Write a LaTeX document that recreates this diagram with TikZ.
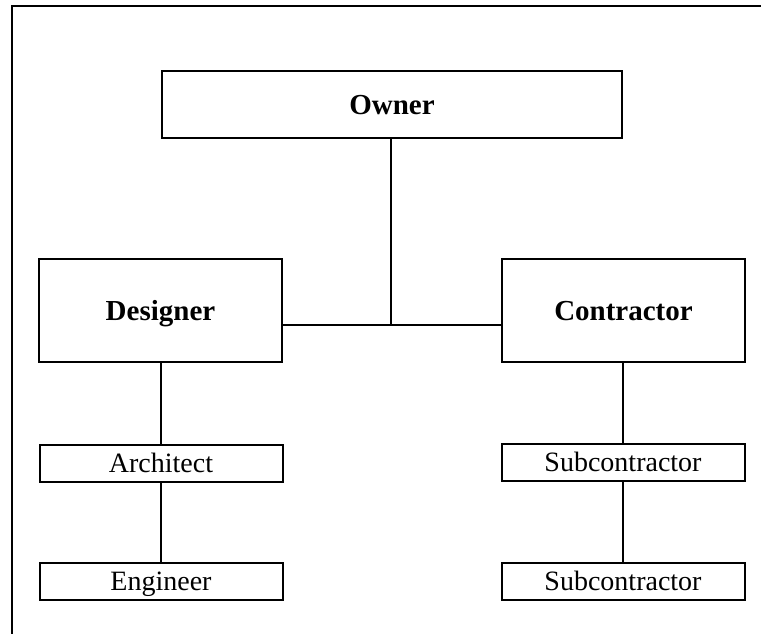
\documentclass[tikz,border=0pt]{standalone}
\usepackage{fontspec}
\setmainfont{Liberation Serif}
\begin{document}
\begin{tikzpicture}[x=1pt,y=-1pt,
  role/.style={draw, line width=2pt, inner sep=0pt, align=center,
    text depth=0pt},
  bigrole/.style={role, minimum width=243pt, minimum height=103pt,
    text height=19pt, font=\fontsize{29}{32}\selectfont\bfseries},
  subrole/.style={role, minimum width=243pt, minimum height=37pt,
    text height=18.5pt, font=\fontsize{28}{30}\selectfont},
  link/.style={line width=1.8pt}]
\useasboundingbox (0,0) rectangle (761,634);
% outer frame, cut off on the right and at the bottom
\draw[line width=2pt] (12,634) -- (12,6) -- (761,6);
% nodes
\node[bigrole, minimum width=460pt, minimum height=67pt] (owner) at (392,104.5) {Owner};
\node[bigrole] (designer) at (160.5,310.5) {Designer};
\node[bigrole] (contractor) at (623.5,310.5) {Contractor};
\node[subrole] (architect) at (161,463.5) {Architect};
\node[subrole] (engineer) at (161,581.5) {Engineer};
\node[subrole] (sub1) at (623,462.5) {Subcontractor};
\node[subrole] (sub2) at (623,581.5) {Subcontractor};
\coordinate (j) at (391,325);
% connectors
\draw[link] (owner.south -| j) -- (j);
\draw[link] (designer.east |- j) -- (contractor.west |- j);
\draw[link] (designer.south -| architect) -- (architect.north);
\draw[link] (architect.south) -- (engineer.north);
\draw[link] (contractor.south -| sub1) -- (sub1.north);
\draw[link] (sub1.south) -- (sub2.north);
\end{tikzpicture}
\end{document}
